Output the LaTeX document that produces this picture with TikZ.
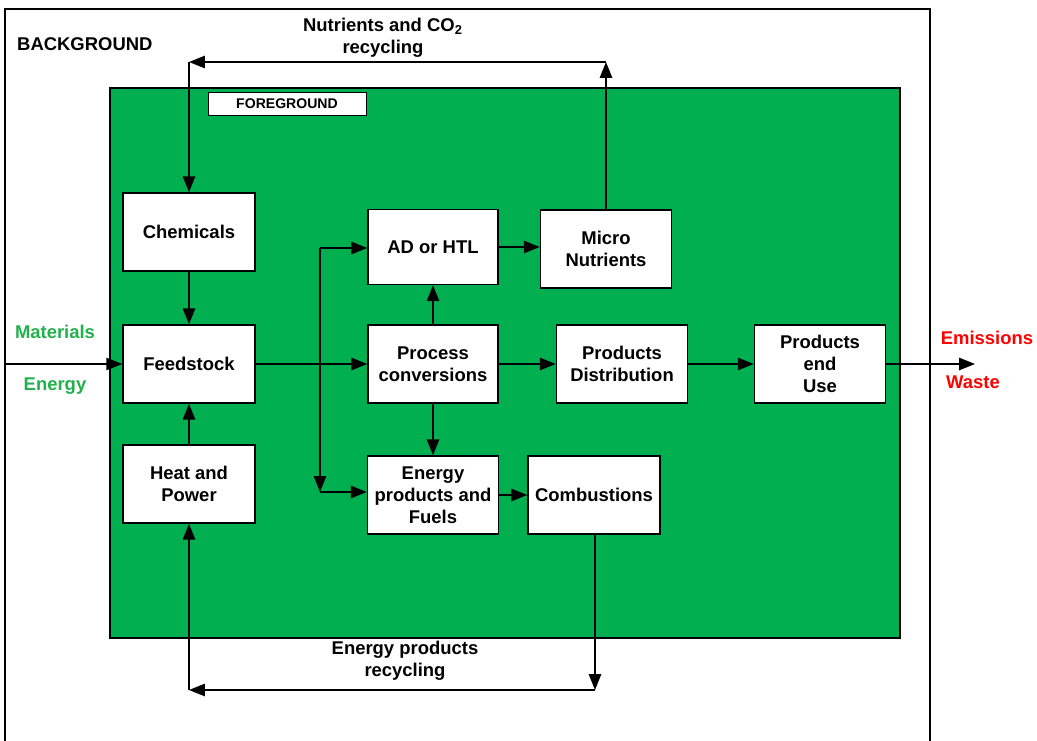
\documentclass[tikz,border=0pt]{standalone}
\usepackage{fontspec}
\setmainfont{Liberation Sans}
\usetikzlibrary{arrows.meta}
\definecolor{fggreen}{RGB}{0,176,80}
\definecolor{txtgreen}{RGB}{34,177,76}
\tikzset{
  box/.style={draw=black, line width=0.9pt, fill=white, minimum width=2.64cm, minimum height=1.56cm,
    align=center, font=\bfseries\fontsize{10.5}{12.5}\selectfont, inner sep=1pt},
  arr/.style={line width=0.9pt, -{Triangle[length=9pt,width=7pt]}},
  lbl/.style={align=center, font=\bfseries\fontsize{10.5}{12.5}\selectfont}
}
\begin{document}
\begin{tikzpicture}[x=0.02cm, y=-0.02cm]
\useasboundingbox (0,0) rectangle (1037,740);
\fill[white] (0,0) rectangle (1037,740);

% background and foreground
\draw[line width=0.9pt] (5,9) rectangle (930,760);
\node[lbl, anchor=west] (bg) at (11,44) {BACKGROUND};
\draw[line width=0.9pt, fill=fggreen] (110,88) rectangle (900,638);
\node[draw, line width=0.5pt, fill=white, minimum width=3.16cm, minimum height=0.46cm,
  font=\bfseries\fontsize{8}{9}\selectfont, inner sep=0pt] (fg) at (287,103.5) {FOREGROUND};

% boxes
\node[box] (chemicals) at (189,232) {Chemicals};
\node[box] (feedstock) at (189,364) {Feedstock};
\node[box] (heat) at (189,484) {Heat and\\Power};
\node[box, minimum width=2.6cm, minimum height=1.5cm] (adhtl) at (433,247) {AD or HTL};
\node[box, minimum width=2.62cm] (micro) at (606,249) {Micro\\Nutrients};
\node[box, minimum width=2.6cm] (process) at (433,364) {Process\\conversions};
\node[box, minimum width=2.62cm] (distrib) at (622,364) {Products\\Distribution};
\node[box, minimum width=2.62cm] (enduse) at (820,364) {Products\\end\\Use};
\node[box, minimum width=2.62cm] (energyprod) at (433,495) {Energy\\products and\\Fuels};
\node[box, minimum width=2.64cm] (combust) at (594,495) {Combustions};

% helper points
\coordinate (nutr) at (606,62);
\coordinate (nutl) at (189,62);
\coordinate (recr) at (595,690);
\coordinate (recl) at (189,690);
\coordinate (split) at (320,248);
\coordinate (splitb) at (320,492);
\coordinate (inl) at (5,364);
\coordinate (outr) at (975,364);

% flows
\draw[arr] (micro.north -| nutr) -- (nutr);
\draw[arr] (nutr) -- (nutl);
\draw[arr] (nutl) -- (chemicals.north);
\draw[arr] (chemicals) -- (feedstock);
\draw[arr] (heat) -- (feedstock);
\draw[arr] (inl) -- (feedstock);
\draw[arr] (feedstock) -- (process);
\draw[arr] (split) -- (adhtl.west |- split);
\draw[arr] (split) -- (splitb);
\draw[arr] (splitb) -- (energyprod.west |- splitb);
\draw[arr] (process) -- (adhtl);
\draw[arr] (process) -- (energyprod);
\draw[arr] (adhtl) -- (micro.west |- adhtl);
\draw[arr] (process) -- (distrib);
\draw[arr] (distrib) -- (enduse);
\draw[arr] (enduse) -- (outr);
\draw[arr] (energyprod) -- (combust);
\draw[arr] (combust.south -| recr) -- (recr);
\draw[arr] (recr) -- (recl);
\draw[arr] (recl) -- (heat.south);

% labels
\node[lbl] (nutlbl) at (383,38) {Nutrients and CO\textsubscript{2}\\recycling};
\node[lbl] (reclbl) at (405,661) {Energy products\\recycling};
\node[lbl, text=txtgreen] (mat) at (55,332) {Materials};
\node[lbl, text=txtgreen] (ene) at (55,386) {Energy};
\node[lbl, text=red] (emi) at (987,338) {Emissions};
\node[lbl, text=red] (was) at (973,382) {Waste};
\end{tikzpicture}
\end{document}
